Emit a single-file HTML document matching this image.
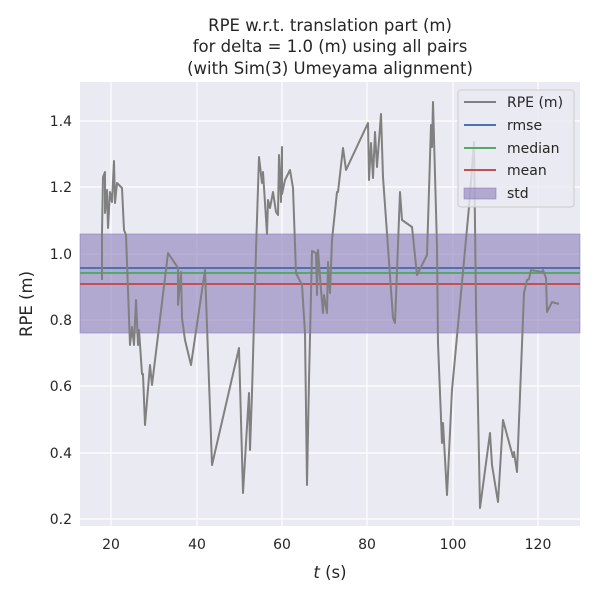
<!DOCTYPE html>
<html><head><style>body{margin:0;background:#fff}</style></head><body>
<svg width="600" height="600" xmlns="http://www.w3.org/2000/svg" font-family="DejaVu Sans, Liberation Sans, sans-serif">
<rect width="600" height="600" fill="#fff"/>
<rect x="80" y="82" width="500" height="444" fill="#eaeaf2"/>
<g stroke="#fff" stroke-width="1.2">
<line x1="111" y1="82" x2="111" y2="526"/><line x1="197" y1="82" x2="197" y2="526"/><line x1="282" y1="82" x2="282" y2="526"/><line x1="367" y1="82" x2="367" y2="526"/><line x1="453" y1="82" x2="453" y2="526"/><line x1="538" y1="82" x2="538" y2="526"/>
<line x1="80" y1="121" x2="580" y2="121"/><line x1="80" y1="187" x2="580" y2="187"/><line x1="80" y1="254" x2="580" y2="254"/><line x1="80" y1="320" x2="580" y2="320"/><line x1="80" y1="386" x2="580" y2="386"/><line x1="80" y1="453" x2="580" y2="453"/><line x1="80" y1="519" x2="580" y2="519"/>
</g>
<rect x="80" y="234" width="500" height="99" fill="#8172b3" fill-opacity="0.55" stroke="#8172b3" stroke-opacity="0.5"/>
<line x1="80" y1="268" x2="580" y2="268" stroke="#4c72b0" stroke-width="2"/>
<line x1="80" y1="273" x2="580" y2="273" stroke="#55a868" stroke-width="2"/>
<line x1="80" y1="284" x2="580" y2="284" stroke="#c44e52" stroke-width="2"/>
<polyline fill="none" stroke="#808080" stroke-width="2" stroke-linejoin="round" points="102,280 102,233 103,177 105,172 105,213 107,190 108,228 110,192 112,202 114,161 115,203 117,183 122,188 124,230 126,235 130,345 132,327 134,345 136,300 138,345 139,330 142,374 143,374 145,425 150,365 152,385 168,253 178,268 178,305 181,272 182,318 185,340 191,365 205,270 212,465 239,348 243,493 249,393 250,450 252,393 256,250 259,157 262,183 263,172 267,234 268,200 270,208 273,192 276,212 278,215 279,155 281,202 282,147 282,194 285,180 290,170 293,188 296,273 302,285 305,333 307,485 309,380 312,251 316,253 317,295 318,250 321,290 323,313 324,295 327,313 328,262 330,293 332,240 337,192 338,192 343,148 346,170 368,123 369,180 371,143 373,178 375,132 377,167 381,114 383,177 393,318 395,323 400,192 402,220 412,227 417,275 427,255 431,125 432,147 433,102 437,247 438,343 442,443 443,423 447,495 452,390 469,207 474,142 476,307 480,508 490,433 492,465 498,502 503,420 513,457 514,452 517,472 524,293 527,280 529,279 531,270 542,272 543,270 546,278 547,312 552,302 559,304"/>
<g>
<rect x="458" y="90" width="116" height="117" rx="3" fill="#eaeaf2" fill-opacity="0.8" stroke="#ccc"/>
<line x1="464" y1="102" x2="496" y2="102" stroke="#808080" stroke-width="2"/>
<line x1="464" y1="125" x2="496" y2="125" stroke="#4c72b0" stroke-width="2"/>
<line x1="464" y1="148" x2="496" y2="148" stroke="#55a868" stroke-width="2"/>
<line x1="464" y1="170" x2="496" y2="170" stroke="#c44e52" stroke-width="2"/>
<rect x="464" y="188" width="32" height="11" fill="#8172b3" fill-opacity="0.55" stroke="#8172b3" stroke-opacity="0.5"/>
<g font-size="14" fill="#262626">
<text x="507" y="107">RPE (m)</text><text x="507" y="130">rmse</text><text x="507" y="153">median</text><text x="507" y="175">mean</text><text x="507" y="198">std</text>
</g></g>
<g font-size="14" fill="#262626" text-anchor="middle">
<text x="111" y="549">20</text><text x="197" y="549">40</text><text x="282" y="549">60</text><text x="367" y="549">80</text><text x="453" y="549">100</text><text x="538" y="549">120</text>
</g>
<g font-size="14" fill="#262626" text-anchor="end">
<text x="72" y="126">1.4</text><text x="72" y="192">1.2</text><text x="72" y="259">1.0</text><text x="72" y="325">0.8</text><text x="72" y="391">0.6</text><text x="72" y="458">0.4</text><text x="72" y="524">0.2</text>
</g>
<text x="330" y="578" font-size="16.5" fill="#262626" text-anchor="middle"><tspan font-style="italic">t</tspan> (s)</text>
<text transform="translate(32,304) rotate(-90)" font-size="16.5" fill="#262626" text-anchor="middle">RPE (m)</text>
<g font-size="16.5" fill="#262626" text-anchor="middle">
<text x="330" y="31">RPE w.r.t. translation part (m)</text>
<text x="330" y="52">for delta = 1.0 (m) using all pairs</text>
<text x="330" y="74">(with Sim(3) Umeyama alignment)</text>
</g>
</svg>
</body></html>
